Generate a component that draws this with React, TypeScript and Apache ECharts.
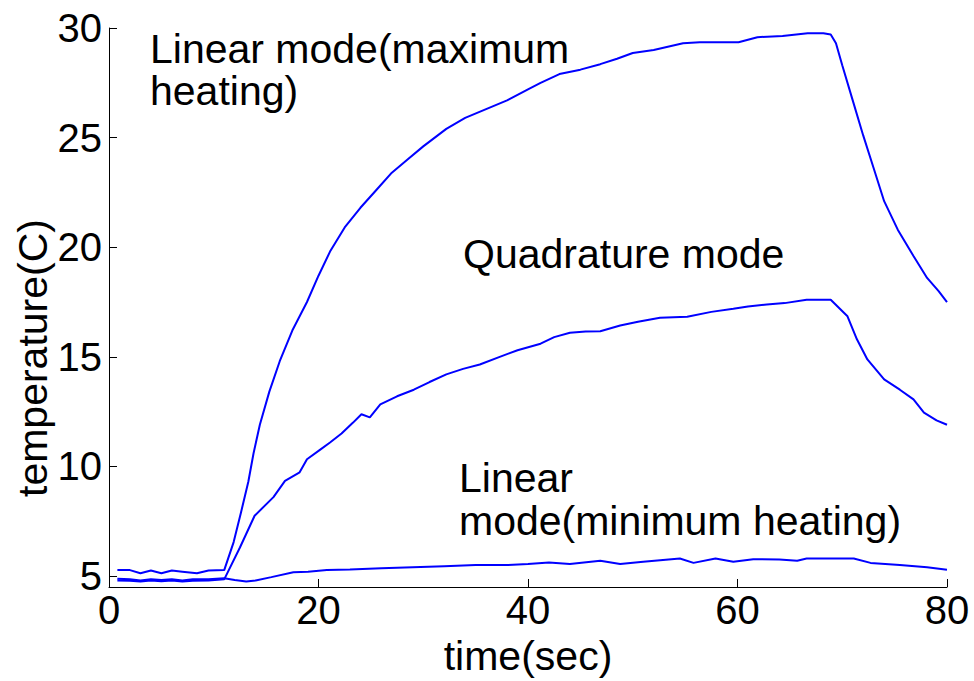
import React, { useEffect, useRef } from "react";
import * as echarts from "echarts";

const FONT = "'Liberation Sans', Arial, Helvetica, sans-serif";

// x tick values / y tick values
const xTicks = [0, 20, 40, 60, 80];
const yTicks = [5, 10, 15, 20, 25, 30];

// Linear mode (maximum heating)
const timeMax = [0.8, 2, 3, 4, 5, 6, 7, 8.4, 9.5, 11, 11.9, 12.6, 13.3, 13.8, 14.4, 15.3, 16.3, 17.5, 18.9, 20, 21.1, 22.5, 24, 25.5, 27, 28.5, 30, 32.2, 34, 36, 38, 40, 41.2, 43, 45, 46.9, 48.5, 50, 52, 54.8, 56.4, 58, 60.1, 61.9, 64.3, 66.7, 68.2, 68.9, 69.4, 70, 71, 72, 73, 74, 75.3, 76.8, 78.1, 79.2, 80];
const tempMax = [5.27, 5.27, 5.13, 5.25, 5.13, 5.25, 5.2, 5.13, 5.25, 5.27, 6.55, 7.9, 9.3, 10.6, 11.9, 13.4, 14.8, 16.2, 17.5, 18.7, 19.8, 20.9, 21.8, 22.6, 23.4, 24.0, 24.6, 25.4, 25.9, 26.3, 26.7, 27.2, 27.5, 27.9, 28.1, 28.35, 28.6, 28.86, 29.0, 29.3, 29.35, 29.35, 29.35, 29.58, 29.64, 29.76, 29.76, 29.7, 29.3, 28.3, 26.7, 25.1, 23.6, 22.1, 20.8, 19.6, 18.6, 18.0, 17.5];

// Quadrature mode
const timeQuad = [0.8, 2, 3, 4, 5, 6, 7, 8, 9.5, 11, 12.5, 13.9, 15.7, 16.8, 18.2, 18.9, 20.2, 21.1, 22.2, 23.3, 24.1, 24.9, 25.9, 27.5, 29.1, 30.6, 32.2, 33.8, 35.4, 37.3, 39, 41.2, 42.5, 44, 45.5, 46.9, 48.8, 50.5, 52.6, 55.2, 57.5, 59.6, 61, 62.8, 64.5, 66.6, 68.9, 70.5, 71.4, 72.4, 74, 75.5, 76.8, 77.8, 79, 80];
const tempQuad = [4.8, 4.78, 4.75, 4.8, 4.76, 4.8, 4.75, 4.78, 4.8, 4.85, 6.3, 7.75, 8.6, 9.34, 9.73, 10.33, 10.78, 11.09, 11.5, 12.0, 12.38, 12.24, 12.83, 13.2, 13.5, 13.85, 14.2, 14.45, 14.65, 15.0, 15.3, 15.6, 15.9, 16.1, 16.15, 16.17, 16.43, 16.6, 16.78, 16.83, 17.05, 17.19, 17.3, 17.39, 17.45, 17.6, 17.6, 16.85, 15.8, 14.88, 13.97, 13.5, 13.06, 12.45, 12.1, 11.9];

// Linear mode (minimum heating)
const timeMin = [0.8, 2, 3, 4, 5, 6, 7, 8, 9.5, 11, 12, 13.1, 14, 15.5, 17.6, 19, 20.8, 23, 26, 29, 32, 35, 38, 40, 42, 44, 46.9, 48.8, 51, 54.5, 55.8, 57.9, 59.6, 61.5, 64, 65.7, 66.6, 71.1, 72.7, 75.5, 78.1, 80];
const tempMin = [4.88, 4.85, 4.8, 4.85, 4.82, 4.85, 4.8, 4.85, 4.85, 4.9, 4.82, 4.75, 4.8, 4.95, 5.17, 5.2, 5.27, 5.3, 5.35, 5.4, 5.45, 5.5, 5.5, 5.55, 5.62, 5.55, 5.7, 5.55, 5.65, 5.8, 5.6, 5.8, 5.65, 5.77, 5.75, 5.7, 5.8, 5.8, 5.6, 5.5, 5.4, 5.29];

const xAxisName = "time(sec)";
const yAxisName = "temperature(C)";
const annotations = [
  { lines: ["Linear mode(maximum", "heating)"], x: 150, y: 49, gap: 42 },
  { lines: ["Quadrature mode"], x: 463, y: 254, gap: 42 },
  { lines: ["Linear", "mode(minimum heating)"], x: 459, y: 478, gap: 43 },
];

const pairs = (t: number[], v: number[]) => t.map((x, i) => [x, v[i]]);

export default function App() {
  const ref = useRef<HTMLDivElement>(null);
  useEffect(() => {
    if (!ref.current) return;
    const chart = echarts.init(ref.current, undefined, { renderer: "svg" });
    const lineStyle = { color: "#0000ff", width: 2 };
    const mkSeries = (name: string, t: number[], v: number[]) => ({
      name,
      type: "line",
      data: pairs(t, v),
      showSymbol: false,
      symbol: "none",
      lineStyle,
      itemStyle: { color: "#0000ff" },
      z: 3,
    });
    const graphics: any[] = [];
    annotations.forEach((a) => {
      a.lines.forEach((ln, i) => {
        graphics.push({
          type: "text",
          x: a.x,
          y: a.y + i * a.gap,
          style: {
            text: ln,
            font: `41px ${FONT}`,
            fill: "#000",
            align: "left",
            verticalAlign: "middle",
            lineHeight: 32,
          },
        });
      });
    });
    graphics.push({
      type: "text",
      x: 528,
      y: 656,
      style: { text: xAxisName, font: `41px ${FONT}`, fill: "#000", align: "center", verticalAlign: "middle", lineHeight: 30 },
    });
    graphics.push({
      type: "text",
      x: 33,
      y: 358,
      rotation: Math.PI / 2,
      style: { text: yAxisName, font: `41px ${FONT}`, fill: "#000", align: "center", verticalAlign: "middle", lineHeight: 32 },
    });
    chart.setOption({
      animation: false,
      backgroundColor: "#fff",
      grid: { left: 109, right: 27, top: 28, bottom: 94, containLabel: false },
      xAxis: {
        type: "value",
        min: 0,
        max: 80,
        interval: 20,
        axisLine: { show: true, lineStyle: { color: "#000", width: 1 } },
        axisTick: { show: true, inside: true, length: 8, lineStyle: { color: "#000" }, customValues: xTicks },
        axisLabel: { margin: 8, lineHeight: 30, fontSize: 40, fontFamily: FONT, color: "#000", customValues: xTicks },
        splitLine: { show: false },
      },
      yAxis: {
        type: "value",
        min: 4.5,
        max: 30,
        axisLine: { show: true, lineStyle: { color: "#000", width: 1 } },
        axisTick: { show: true, inside: true, length: 8, lineStyle: { color: "#000" }, customValues: yTicks },
        axisLabel: { margin: 7, lineHeight: 30, fontSize: 40, fontFamily: FONT, color: "#000", customValues: yTicks },
        splitLine: { show: false },
      },
      series: [
        mkSeries("Linear mode (maximum heating)", timeMax, tempMax),
        mkSeries("Quadrature mode", timeQuad, tempQuad),
        mkSeries("Linear mode (minimum heating)", timeMin, tempMin),
      ],
      graphic: graphics,
    });
    return () => chart.dispose();
  }, []);
  return (
    <div
      ref={ref}
      style={{ position: "fixed", left: 0, top: 0, width: 974, height: 681, background: "#fff" }}
    />
  );
}
